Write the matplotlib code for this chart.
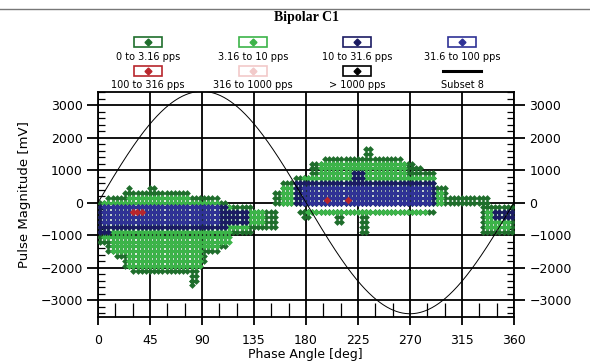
import numpy as np
import matplotlib
matplotlib.use('Agg')
import matplotlib.pyplot as plt
from matplotlib.patches import Rectangle
from matplotlib.lines import Line2D

# ---------------- data ----------------
title = "Bipolar C1"
x_label = "Phase Angle [deg]"
y_label = "Pulse Magnitude [mV]"
x_ticks = [0, 45, 90, 135, 180, 225, 270, 315, 360]
y_ticks = [-3000, -2000, -1000, 0, 1000, 2000, 3000]

series_labels = ["0 to 3.16 pps", "3.16 to 10 pps", "10 to 31.6 pps", "31.6 to 100 pps",
                 "100 to 316 pps", "316 to 1000 pps", "> 1000 pps", "Subset 8"]
series_colors = ["#1f6e2c", "#3cb449", "#1b1b63", "#2f3296",
                 "#b8262c", "#f2c9c9", "#000000", "#000000"]

# phase/magnitude bin grid of the pulse histogram
phase_bin = 3.6
mag_bin = 150

# regions occupied by each rate class: (phase from, phase to, mV from, mV to)
dark_green_regions = [
    (0, 7, -1200, 0), (7, 14, -1500, 150), (14, 22, -1700, 150), (22, 30, -1950, 300),
    (30, 60, -2100, 300), (60, 80, -2150, 300), (80, 86, -2400, 150), (86, 94, -1800, 150),
    (94, 104, -1550, 150), (104, 112, -1450, 0), (112, 118, -1000, -150), (118, 135, -900, -150),
    (135, 156, -750, -300), (26, 30, 300, 450), (45, 49, 300, 450), (80, 84, -2550, -2400),
    (150, 160, 0, 300), (160, 170, 0, 600), (170, 185, 0, 750), (185, 195, 0, 1200),
    (195, 232, 0, 1400), (232, 236, 0, 1650), (236, 262, 0, 1400), (262, 272, 0, 1250),
    (272, 282, 0, 1050), (282, 292, 0, 900), (292, 302, 0, 450), (302, 338, 0, 150),
    (172, 290, -300, -300), (205, 212, -600, -300), (228, 234, -900, -300), (175, 182, -450, -300),
    (333, 360, -900, -150),
]
light_green_regions = [
    (3, 12, -1050, 0), (12, 25, -1500, 0), (25, 80, -1950, 150), (80, 90, -2000, 0),
    (90, 105, -1400, 0), (105, 115, -1300, -150), (115, 130, -750, -300), (130, 145, -600, -300),
    (160, 175, 0, 450), (175, 190, 0, 750), (190, 265, 150, 1200), (265, 290, 0, 750),
    (290, 300, 0, 300), (180, 285, -300, -300), (336, 358, -750, -300),
]
navy_regions = [
    (0, 10, -900, -150), (10, 110, -850, -150), (110, 128, -600, -300),
    (168, 292, 0, 600), (220, 232, 0, 900), (342, 360, -450, -300),
]
blue_regions = [
    (5, 105, -600, -150), (175, 288, 0, 450),
]
red_points_phase = [30, 34, 38, 198, 216]
red_points_mag = [-300, -300, -300, 75, 75]

sine_amplitude = 3420  # reference sine, Subset 8


def region_points(regions):
    ph, mg = [], []
    centres = np.arange(phase_bin / 2, 360, phase_bin)
    for p0, p1, m0, m1 in regions:
        cols = centres[(centres >= p0) & (centres <= p1)]
        rows = np.arange(np.ceil(m0 / mag_bin), np.floor(m1 / mag_bin) + 1) * mag_bin
        for c in cols:
            for r in rows:
                ph.append(c)
                mg.append(r)
    return np.array(ph), np.array(mg)


# ---------------- figure ----------------
W, H = 590, 362
fig = plt.figure(figsize=(W / 100, H / 100), dpi=100)
ax = fig.add_axes([98 / W, 1 - 317 / H, 416 / W, 225 / H])

ms = 12
for regions, col, z in [(dark_green_regions, series_colors[0], 3),
                        (light_green_regions, series_colors[1], 4),
                        (navy_regions, series_colors[2], 5),
                        (blue_regions, series_colors[3], 6)]:
    px, py = region_points(regions)
    ax.scatter(px, py, s=ms, marker='D', color=col, linewidths=0, zorder=z)
ax.scatter(red_points_phase, red_points_mag, s=ms + 3, marker='D', color=series_colors[4],
           linewidths=0, zorder=7)

phase_line = np.linspace(0, 360, 721)
ax.plot(phase_line, sine_amplitude * np.sin(np.radians(phase_line)), color='black', lw=0.7, zorder=8)

ax.set_xlim(0, 360)
ax.set_ylim(-3520, 3380)
ax.set_xticks(x_ticks)
ax.set_yticks(y_ticks)
ax.set_xticks(np.arange(0, 361, 15), minor=True)
ax.set_yticks(np.arange(-3400, 3401, 200), minor=True)
ax.grid(True, which='major', color='black', lw=1.3, zorder=1)
for s in ax.spines.values():
    s.set_linewidth(1.3)
ax.tick_params(axis='both', which='major', labelsize=9, width=1.3, colors='black')
ax.tick_params(axis='y', which='major', left=True, right=True, labelright=True, length=8, pad=3)
ax.tick_params(axis='x', which='major', length=6, pad=6)
ax.tick_params(axis='y', which='minor', left=True, right=True, direction='in', length=5, width=0.9)
ax.tick_params(axis='x', which='minor', bottom=True, direction='in', length=10, width=0.9)
ax.set_axisbelow(True)

fig.text(25 / W, 1 - 195 / H, y_label, rotation=90, ha='center', va='center', fontsize=9.5)
fig.text(305 / W, 1 / H, x_label, ha='center', va='bottom', fontsize=9)

# title and top rule
fig.text(307 / W, 1 - 17 / H, title, ha='center', va='center', fontsize=10,
         family='Liberation Serif', fontweight='bold')
fig.add_artist(Line2D([0, 1], [1 - 9 / H, 1 - 9 / H], color='#777777', lw=1))

# legend drawn by hand: box with marker above label
col_x = [148, 253, 357, 462]
row_box_y = [42, 71]
row_txt_y = [57, 85]
for i, (lab, col) in enumerate(zip(series_labels, series_colors)):
    r, c = divmod(i, 4)
    cx, by = col_x[c], row_box_y[r]
    if lab == "Subset 8":
        fig.add_artist(Line2D([(cx - 19) / W, (cx + 19) / W], [1 - by / H, 1 - by / H],
                              color='black', lw=2.2))
    else:
        edge = col if lab != "> 1000 pps" else 'black'
        fig.add_artist(Rectangle(((cx - 14) / W, 1 - (by + 5) / H), 28 / W, 10 / H,
                                 fill=False, edgecolor=edge, lw=1.2))
        fig.add_artist(Line2D([cx / W], [1 - by / H], marker='D', markersize=3.5,
                              color=col, linestyle='none'))
    fig.text(cx / W, 1 - row_txt_y[r] / H, lab, ha='center', va='center', fontsize=7)

fig.savefig('out.png', dpi=100)
